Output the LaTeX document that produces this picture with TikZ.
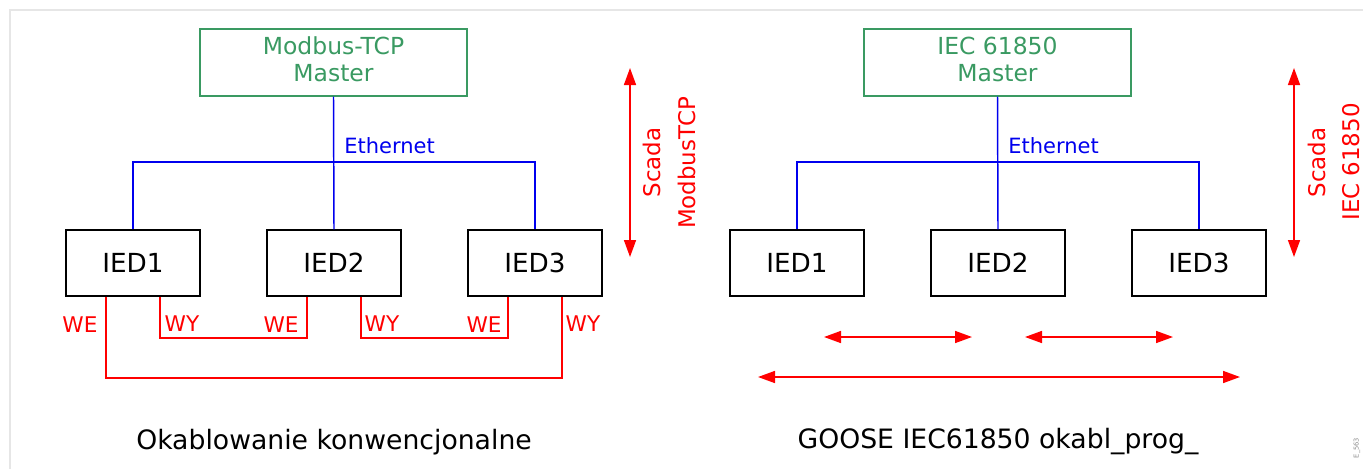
\documentclass[tikz,border=0pt]{standalone}
\usepackage{fontspec}
\setmainfont{DejaVu Sans}
\usetikzlibrary{arrows.meta,calc}
\definecolor{mgreen}{HTML}{3A9A62}
\definecolor{mred}{HTML}{FF0000}
\definecolor{mblue}{HTML}{0000EE}
\definecolor{frame}{HTML}{E6E6E6}
\begin{document}
\begin{tikzpicture}[x=0.75pt,y=-0.75pt,
  iedbox/.style={draw=black, line width=1.1pt, minimum width=100.5pt, minimum height=49.5pt, inner sep=0pt, font=\fontsize{19.7}{23}\selectfont},
  masterbox/.style={draw=mgreen, line width=1.1pt, text=mgreen, minimum width=200.25pt, minimum height=50.25pt, inner sep=0pt, text depth=4.5pt, align=center, font=\fontsize{17.6}{20.25}\selectfont},
  eth/.style={draw=mblue, line width=1.1pt},
  ethlabel/.style={text=mblue, anchor=west, inner sep=0pt, font=\fontsize{15.75}{18}\selectfont},
  wire/.style={draw=mred, line width=1.2pt},
  wlabel/.style={text=mred, inner sep=0pt, font=\fontsize{16.2}{18}\selectfont},
  scarrow/.style={draw=mred, line width=1.2pt, {Triangle[length=12.75pt,width=9pt]}-{Triangle[length=12.75pt,width=9pt]}},
  slabel/.style={text=mred, rotate=90, inner sep=0pt, font=\fontsize{17.2}{20}\selectfont},
  caption/.style={text=black, inner sep=0pt, font=\fontsize{20}{23}\selectfont}
]
\useasboundingbox (0,0) rectangle (1363,468);
% frame
\draw[frame, line width=1.5pt] (10,480) -- (10,10) -- (1380,10);

% ---------- left diagram ----------
\node[masterbox] (m1) at (333.5,62.5) {Modbus-TCP\\Master};
\node[iedbox] (a1) at (133,263) {IED1};
\node[iedbox] (a2) at (334,263) {IED2};
\node[iedbox] (a3) at (535,263) {IED3};
\coordinate (ja) at (334,162);
\draw[eth] (m1.south) -- (a2.north);
\draw[eth] (a1.north) |- (ja) -| (a3.north);
\node[ethlabel] (ethA) at (344,145.5) {Ethernet};

\coordinate (we1) at ($(a1.south west)!0.3!(a1.south east)$);
\coordinate (wy1) at ($(a1.south west)!0.7!(a1.south east)$);
\coordinate (we2) at ($(a2.south west)!0.3!(a2.south east)$);
\coordinate (wy2) at ($(a2.south west)!0.7!(a2.south east)$);
\coordinate (we3) at ($(a3.south west)!0.3!(a3.south east)$);
\coordinate (wy3) at ($(a3.south west)!0.7!(a3.south east)$);
\draw[wire] (wy1) -- ++(0,41) -| (we2);
\draw[wire] (wy2) -- ++(0,41) -| (we3);
\draw[wire] (we1) -- ++(0,81) -| (wy3);
\node[wlabel] (lwe1) at (80,325) {WE};
\node[wlabel] (lwy1) at (182,323.5) {WY};
\node[wlabel] (lwe2) at (281,325) {WE};
\node[wlabel] (lwy2) at (382,323.5) {WY};
\node[wlabel] (lwe3) at (484,325) {WE};
\node[wlabel] (lwy3) at (583,323.5) {WY};

\coordinate (sa1) at (630,68);
\coordinate (sa2) at (630,257);
\draw[scarrow] (sa1) -- (sa2);
\node[slabel] (sc1) at (652,162.5) {Scada};
\node[slabel] (sc2) at (687,163) {ModbusTCP};

\node[caption] (cap1) at (334,442) {Okablowanie konwencjonalne};

% ---------- right diagram ----------
\node[masterbox] (m2) at (997.5,62.5) {IEC 61850\\Master};
\node[iedbox] (b1) at (797,263) {IED1};
\node[iedbox] (b2) at (998,263) {IED2};
\node[iedbox] (b3) at (1199,263) {IED3};
\coordinate (jb) at (998,162);
\draw[eth] (m2.south) -- (b2.north);
\draw[eth] (b1.north) |- (jb) -| (b3.north);
\node[ethlabel] (ethB) at (1008,145.5) {Ethernet};

\coordinate (g1a) at (824,337);
\coordinate (g1b) at (972,337);
\coordinate (g2a) at (1025,337);
\coordinate (g2b) at (1173,337);
\coordinate (g3a) at (758,377);
\coordinate (g3b) at (1240,377);
\draw[scarrow] (g1a) -- (g1b);
\draw[scarrow] (g2a) -- (g2b);
\draw[scarrow] (g3a) -- (g3b);

\coordinate (sb1) at (1294,68);
\coordinate (sb2) at (1294,257);
\draw[scarrow] (sb1) -- (sb2);
\node[slabel] (sc3) at (1317,162.5) {Scada};
\node[slabel] (sc4) at (1351,162) {IEC 61850};

\node[caption] (cap2) at (998,442) {GOOSE IEC61850 okabl\_prog\_};

\node[text=black!45, rotate=90, inner sep=0pt, font=\fontsize{5}{6}\selectfont] (id) at (1357,448) {E\_563};
\end{tikzpicture}
\end{document}
